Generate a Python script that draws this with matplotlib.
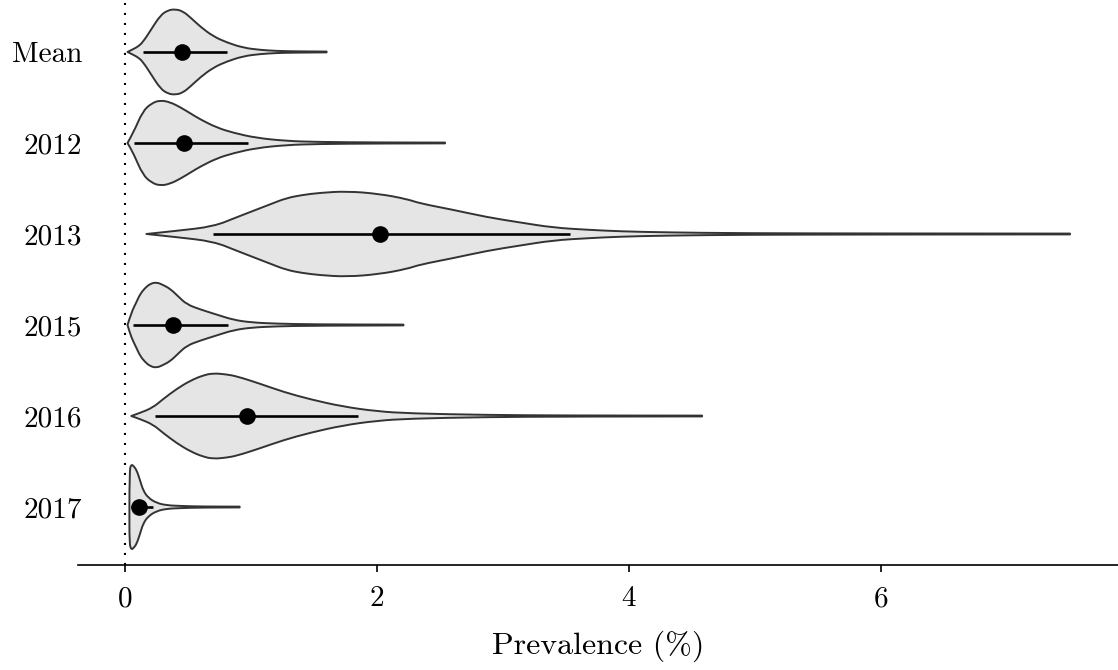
import numpy as np
import matplotlib
matplotlib.use("Agg")
import matplotlib.pyplot as plt
from matplotlib.path import Path
from matplotlib.patches import PathPatch

# ---------------- data ----------------
categories = ["Mean", "2012", "2013", "2015", "2016", "2017"]
medians = [0.45, 0.47, 2.02, 0.38, 0.97, 0.11]
interval_low = [0.14, 0.07, 0.70, 0.06, 0.24, 0.05]
interval_high = [0.81, 0.98, 3.53, 0.82, 1.85, 0.22]

# violin outlines: x positions and relative density (half-width, arbitrary units)
mean_x = [0.02, 0.07, 0.10, 0.14, 0.21, 0.28, 0.34, 0.40, 0.46, 0.52, 0.60, 0.70, 0.81, 0.94, 1.07, 1.20, 1.35, 1.60]
mean_d = [0.0, 3.0, 5.0, 9.0, 22.0, 35.0, 40.0, 41.0, 39.0, 33.0, 24.0, 15.0, 9.0, 4.0, 2.0, 1.0, 0.6, 0.4]

y2012_x = [0.02, 0.07, 0.14, 0.21, 0.28, 0.36, 0.44, 0.52, 0.60, 0.73, 0.86, 1.04, 1.28, 1.52, 2.00, 2.54]
y2012_d = [0.0, 11.0, 31.0, 39.0, 42.0, 40.0, 35.0, 29.0, 23.0, 15.0, 10.0, 5.0, 2.0, 1.0, 0.5, 0.4]

y2013_x = [0.17, 0.41, 0.70, 0.89, 1.02, 1.15, 1.28, 1.41, 1.55, 1.76, 2.02, 2.24, 2.34, 2.60, 2.87, 3.13, 3.40, 3.67, 3.93, 4.30, 4.90, 6.00, 7.50]
y2013_d = [0.0, 3.0, 7.0, 16.0, 22.0, 28.0, 34.0, 37.0, 39.0, 40.5, 38.0, 33.0, 29.0, 23.0, 16.0, 11.0, 6.0, 4.0, 2.5, 1.5, 0.7, 0.5, 0.4]

y2015_x = [0.02, 0.05, 0.09, 0.12, 0.16, 0.20, 0.25, 0.30, 0.36, 0.42, 0.49, 0.60, 0.73, 0.86, 1.00, 1.20, 1.50, 2.21]
y2015_d = [0.0, 12.0, 22.0, 30.0, 36.0, 40.0, 41.5, 39.0, 35.0, 28.0, 20.0, 15.0, 10.0, 5.0, 2.5, 1.3, 0.6, 0.4]

y2016_x = [0.05, 0.12, 0.22, 0.30, 0.41, 0.52, 0.62, 0.70, 0.80, 0.89, 1.07, 1.26, 1.47, 1.73, 2.00, 2.26, 2.87, 3.50, 4.58]
y2016_d = [0.0, 3.0, 8.0, 16.0, 26.0, 34.0, 39.0, 41.0, 40.0, 38.0, 31.0, 23.0, 16.0, 9.0, 4.5, 2.5, 1.0, 0.5, 0.4]

y2017_x = [0.035, 0.035, 0.05, 0.07, 0.093, 0.12, 0.145, 0.185, 0.25, 0.33, 0.45, 0.60, 0.91]
y2017_d = [0.0, 36.0, 42.0, 40.0, 36.0, 26.0, 16.0, 9.0, 4.0, 1.7, 1.0, 0.5, 0.4]

violin_x = [mean_x, y2012_x, y2013_x, y2015_x, y2016_x, y2017_x]
violin_d = [mean_d, y2012_d, y2013_d, y2015_d, y2016_d, y2017_d]

x_ticks = [0, 2, 4, 6]
x_label = "Prevalence (%)"

# ---------------- style ----------------
plt.rcParams["font.family"] = ["cmr10", "DejaVu Serif"]
plt.rcParams["axes.formatter.use_mathtext"] = True
plt.rcParams["mathtext.fontset"] = "cm"

fig = plt.figure(figsize=(11.18, 6.70), dpi=100)
ax = fig.add_axes([78 / 1118, 1 - 565 / 670, 1 - 78 / 1118, 565 / 670])

half_width = 0.47  # max half-width of a violin in row units


def smooth_segment(xs, ys, first_code):
    """Quadratic-Bezier path through midpoints, with the given points as controls."""
    verts = [(xs[0], ys[0])]
    codes = [first_code]
    n = len(xs)
    for k in range(1, n - 1):
        mid = ((xs[k] + xs[k + 1]) / 2.0, (ys[k] + ys[k + 1]) / 2.0)
        verts += [(xs[k], ys[k]), mid]
        codes += [Path.CURVE3, Path.CURVE3]
    verts.append((xs[-1], ys[-1]))
    codes.append(Path.LINETO)
    return verts, codes


for i, (xs, ds) in enumerate(zip(violin_x, violin_d)):
    xs = np.asarray(xs, float)
    ds = np.asarray(ds, float)
    hw = half_width * ds / ds.max()
    v1, c1 = smooth_segment(xs, i - hw, Path.MOVETO)
    v2, c2 = smooth_segment(xs[::-1], (i + hw)[::-1], Path.LINETO)
    verts = v1 + v2 + [v1[0]]
    codes = c1 + c2 + [Path.CLOSEPOLY]
    patch = PathPatch(Path(verts, codes), facecolor="#E5E5E5", edgecolor="#333333",
                      linewidth=1.4, joinstyle="round", zorder=2)
    ax.add_patch(patch)
    ax.plot([interval_low[i], interval_high[i]], [i, i], color="black",
            linewidth=1.9, solid_capstyle="butt", zorder=3)
    ax.plot([medians[i]], [i], marker="o", markersize=12, color="black",
            markeredgewidth=0, zorder=4)

ax.axvline(0, color="black", linewidth=1.5, linestyle=(0, (1.0, 3.8)), zorder=1)

ax.set_xlim(-0.373, 7.881)
ax.set_ylim(5.637, -0.571)

ax.set_yticks(range(len(categories)))
ax.set_yticklabels(categories)
ax.set_xticks(x_ticks)
ax.set_xticklabels([str(t) for t in x_ticks])

for side in ["left", "right", "top"]:
    ax.spines[side].set_visible(False)
ax.spines["bottom"].set_linewidth(1.2)
ax.spines["bottom"].set_color("black")

ax.tick_params(axis="y", length=0, pad=-3, labelsize=21)
ax.tick_params(axis="x", length=5, width=1.2, pad=10, labelsize=21, color="black")
ax.set_xlabel(x_label, fontsize=23, labelpad=13)

fig.savefig("out.png", dpi=100)
